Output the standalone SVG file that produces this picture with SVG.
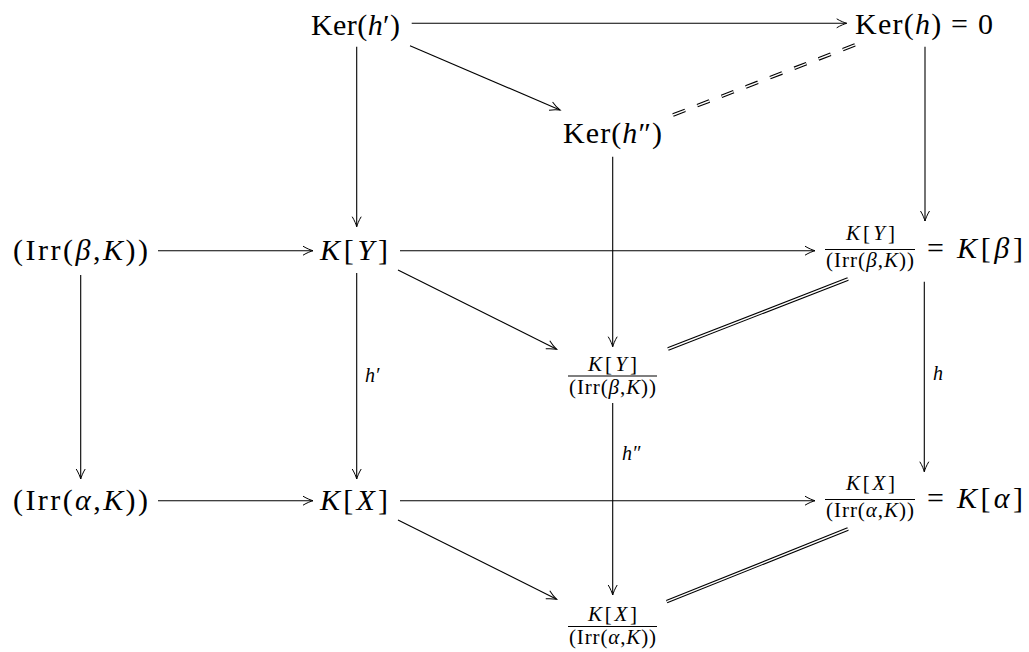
<svg xmlns="http://www.w3.org/2000/svg" width="1029" height="652" viewBox="0 0 1029 652">
<defs>
<marker id="ah" markerUnits="userSpaceOnUse" markerWidth="14" markerHeight="12" viewBox="-12 -6 14 12" refX="0" refY="0" orient="auto" overflow="visible">
<path d="M-10,-4.5 C-6,-2 -2,-0.6 0,0 C-2,0.6 -6,2 -10,4.5" fill="none" stroke="#000" stroke-width="1"/>
</marker>
</defs>
<style>
text{font-family:"Liberation Serif","Times New Roman",serif;fill:#000}
.m{font-size:30px}
.f{font-size:21px}
.l{font-size:20px;font-style:italic}
.i{font-style:italic}
.a{fill:none;stroke:#000;stroke-width:1.1;marker-end:url(#ah)}
.dbo{fill:none;stroke:#000;stroke-width:3.6}
.dbi{fill:none;stroke:#fff;stroke-width:1.4}
.dd{stroke-dasharray:13 13}
.fl{stroke:#000;stroke-width:1.1}
</style>
<rect width="1029" height="652" fill="#fff"/>
<g id="connectors">
<path class="a" d="M411.7,23.3 H846.7"/>
<path class="a" d="M410,45.7 L560,110"/>
<path class="a" d="M356.7,46.7 V226.7"/>
<path class="a" d="M612.7,156.7 V346.7"/>
<path class="a" d="M925,46.7 V221"/>
<path class="dbo dd" d="M673,115 L860,43"/>
<path class="dbi dd" d="M673,115 L860,43"/>
<path class="a" d="M158,250.7 H313"/>
<path class="a" d="M400,250.7 H815"/>
<path class="a" d="M398,270 L556.7,349.3"/>
<path class="a" d="M80.7,275 V479"/>
<path class="a" d="M356.7,273 V479"/>
<path class="a" d="M924.3,281.7 V471.7"/>
<path class="a" d="M612.7,403 V595"/>
<path class="dbo" d="M668,349 L848,279"/>
<path class="dbi" d="M668,349 L848,279"/>
<path class="a" d="M158,500.7 H313"/>
<path class="a" d="M400,500.7 H815"/>
<path class="a" d="M398,520 L556.7,599.3"/>
<path class="dbo" d="M666.7,601.7 L848,529"/>
<path class="dbi" d="M666.7,601.7 L848,529"/>
<text class="l" x="365" y="382">h′</text>
<text class="l" x="933" y="380">h</text>
<text class="l" x="622" y="460">h″</text>
</g>
<g id="kerhp">
<text class="m" x="311" y="35" textLength="89" lengthAdjust="spacing">Ker(<tspan class="i">h</tspan>′)</text>
</g>
<g id="kerh">
<text class="m" x="855" y="34" textLength="138" lengthAdjust="spacing">Ker(<tspan class="i">h</tspan>) = 0</text>
</g>
<g id="kerhpp">
<text class="m" x="563" y="143" textLength="99" lengthAdjust="spacing">Ker(<tspan class="i">h</tspan>″)</text>
</g>
<g id="irrbeta">
<text class="m" x="13" y="260" textLength="135" lengthAdjust="spacing">(Irr(<tspan class="i">β</tspan>,<tspan class="i">K</tspan>))</text>
</g>
<g id="ky">
<text class="m" x="320" y="260" textLength="68" lengthAdjust="spacing"><tspan class="i">K</tspan>[<tspan class="i">Y</tspan>]</text>
</g>
<g id="irralpha">
<text class="m" x="13" y="510" textLength="135" lengthAdjust="spacing">(Irr(<tspan class="i">α</tspan>,<tspan class="i">K</tspan>))</text>
</g>
<g id="kx">
<text class="m" x="320" y="510" textLength="68" lengthAdjust="spacing"><tspan class="i">K</tspan>[<tspan class="i">X</tspan>]</text>
</g>
<g id="kbeta">
<text class="f" x="846" y="240" textLength="49" lengthAdjust="spacing"><tspan class="i">K</tspan>[<tspan class="i">Y</tspan>]</text>
<line class="fl" x1="825" y1="249.5" x2="915" y2="249.5"/>
<text class="f" x="826" y="267" textLength="88" lengthAdjust="spacing">(Irr(<tspan class="i">β</tspan>,<tspan class="i">K</tspan>))</text>
<text class="m" x="927" y="258">=</text>
<text class="m" x="957" y="258" textLength="66" lengthAdjust="spacing"><tspan class="i">K</tspan>[<tspan class="i">β</tspan>]</text>
</g>
<g id="kalpha">
<text class="f" x="846" y="490" textLength="49" lengthAdjust="spacing"><tspan class="i">K</tspan>[<tspan class="i">X</tspan>]</text>
<line class="fl" x1="825" y1="499.5" x2="915" y2="499.5"/>
<text class="f" x="826" y="517" textLength="88" lengthAdjust="spacing">(Irr(<tspan class="i">α</tspan>,<tspan class="i">K</tspan>))</text>
<text class="m" x="927" y="508">=</text>
<text class="m" x="957" y="508" textLength="66" lengthAdjust="spacing"><tspan class="i">K</tspan>[<tspan class="i">α</tspan>]</text>
</g>
<g id="midtop">
<text class="f" x="588" y="371" textLength="49" lengthAdjust="spacing"><tspan class="i">K</tspan>[<tspan class="i">Y</tspan>]</text>
<line class="fl" x1="568" y1="376" x2="657" y2="376"/>
<text class="f" x="569" y="394" textLength="87" lengthAdjust="spacing">(Irr(<tspan class="i">β</tspan>,<tspan class="i">K</tspan>))</text>
</g>
<g id="midbot">
<text class="f" x="588" y="621" textLength="49" lengthAdjust="spacing"><tspan class="i">K</tspan>[<tspan class="i">X</tspan>]</text>
<line class="fl" x1="568" y1="626.5" x2="657" y2="626.5"/>
<text class="f" x="569" y="644" textLength="87" lengthAdjust="spacing">(Irr(<tspan class="i">α</tspan>,<tspan class="i">K</tspan>))</text>
</g>
</svg>
